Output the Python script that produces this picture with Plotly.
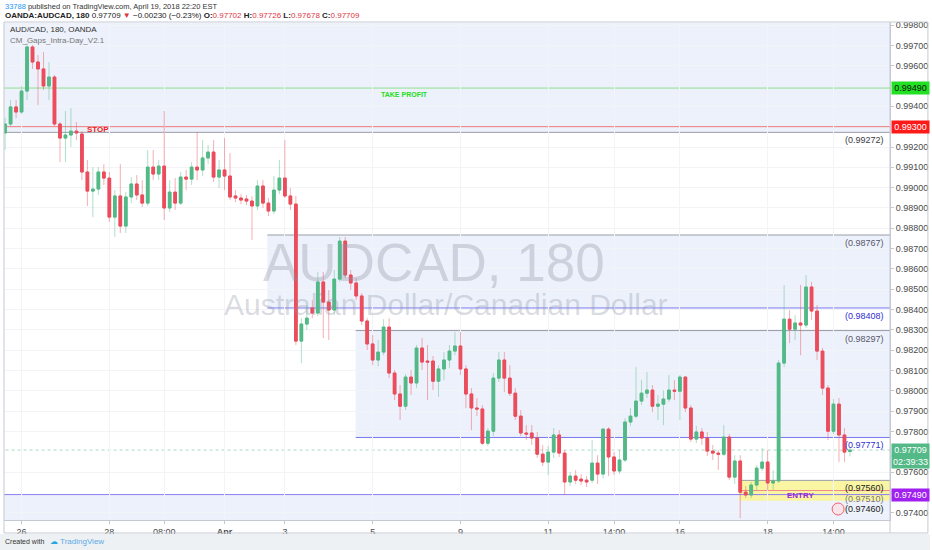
import plotly.graph_objects as go

# ---------------- data (AUDCAD, 3h bars) ----------------
opens = [0.99269,0.99313,0.99397,0.99372,0.99475,0.99692,0.99618,0.99584,0.99500,0.99544,
0.99313,0.99244,0.99259,0.99278,0.99264,0.99077,0.98983,0.98993,0.99077,0.99047,
0.98855,0.98959,0.98811,0.98954,0.99018,0.98964,0.98924,0.99101,0.99067,0.99106,
0.98900,0.98978,0.98924,0.99052,0.99042,0.99101,0.99087,0.99146,0.99175,0.99052,
0.99087,0.99057,0.98959,0.98949,0.98944,0.98934,0.98910,0.99008,0.98924,0.98885,
0.98988,0.99047,0.98959,0.98919,0.98245,0.98329,0.98408,0.98383,0.98536,0.98437,
0.98398,0.98550,0.98737,0.98570,0.98531,0.98467,0.98344,0.98231,0.98152,0.98191,
0.98314,0.98088,0.97985,0.97925,0.98068,0.98039,0.98211,0.98147,0.98147,0.98048,
0.98108,0.98152,0.98196,0.98221,0.98108,0.97985,0.97916,0.97911,0.97743,0.97802,
0.98063,0.98152,0.98063,0.97989,0.97876,0.97793,0.97793,0.97768,0.97689,0.97650,
0.97699,0.97783,0.97694,0.97552,0.97581,0.97566,0.97561,0.97561,0.97645,0.97591,
0.97812,0.97675,0.97606,0.97660,0.97847,0.97876,0.97950,0.97989,0.98004,0.97925,
0.97935,0.97960,0.98004,0.97999,0.98068,0.97916,0.97763,0.97798,0.97768,0.97704,
0.97694,0.97689,0.97773,0.97576,0.97655,0.97502,0.97488,0.97537,0.97620,0.97650,
0.97547,0.97557,0.98137,0.98353,0.98304,0.98334,0.98324,0.98511,0.98393,0.98196,
0.98014,0.97802,0.97935,0.97783,0.97702]
closes = [0.99313,0.99397,0.99372,0.99475,0.99692,0.99618,0.99584,0.99500,0.99544,0.99313,
0.99244,0.99259,0.99278,0.99269,0.99077,0.98983,0.98993,0.99077,0.99047,0.98855,
0.98959,0.98811,0.98954,0.99018,0.98964,0.98924,0.99101,0.99067,0.99106,0.98900,
0.98978,0.98924,0.99052,0.99042,0.99101,0.99087,0.99146,0.99175,0.99052,0.99087,
0.99057,0.98954,0.98949,0.98939,0.98934,0.98910,0.99008,0.98924,0.98885,0.98988,
0.99047,0.98959,0.98919,0.98245,0.98329,0.98358,0.98383,0.98536,0.98437,0.98398,
0.98550,0.98737,0.98570,0.98531,0.98467,0.98344,0.98231,0.98152,0.98191,0.98314,
0.98088,0.97985,0.97925,0.98068,0.98039,0.98211,0.98142,0.98142,0.98048,0.98108,
0.98152,0.98196,0.98221,0.98108,0.97985,0.97916,0.97911,0.97743,0.97802,0.98063,
0.98152,0.98063,0.97989,0.97876,0.97793,0.97788,0.97768,0.97689,0.97650,0.97699,
0.97783,0.97694,0.97552,0.97581,0.97561,0.97557,0.97552,0.97645,0.97591,0.97812,
0.97675,0.97606,0.97660,0.97847,0.97876,0.97950,0.97989,0.98004,0.97925,0.97935,
0.97960,0.98004,0.97999,0.98068,0.97916,0.97763,0.97798,0.97768,0.97704,0.97694,
0.97689,0.97773,0.97576,0.97655,0.97502,0.97488,0.97537,0.97620,0.97650,0.97547,
0.97557,0.98137,0.98353,0.98304,0.98334,0.98324,0.98511,0.98393,0.98196,0.98014,
0.97802,0.97935,0.97783,0.97699,0.97709]
highs = [0.99342,0.99431,0.99431,0.99500,0.99711,0.99702,0.99652,0.99667,0.99618,0.99554,
0.99323,0.99377,0.99392,0.99323,0.99278,0.99136,0.99101,0.99101,0.99116,0.99077,
0.98988,0.99116,0.98978,0.99052,0.99062,0.99037,0.99185,0.99185,0.99136,0.99377,
0.99037,0.99047,0.99077,0.99087,0.99126,0.99274,0.99234,0.99210,0.99234,0.99136,
0.99244,0.99170,0.98988,0.98968,0.98964,0.98959,0.99037,0.99037,0.98949,0.99057,
0.99136,0.99234,0.98998,0.98959,0.98358,0.98422,0.98447,0.98585,0.98585,0.98496,
0.98595,0.98757,0.98757,0.98595,0.98555,0.98481,0.98358,0.98275,0.98250,0.98353,
0.98358,0.98103,0.98029,0.98083,0.98103,0.98226,0.98260,0.98226,0.98172,0.98127,
0.98191,0.98226,0.98290,0.98290,0.98127,0.98014,0.97965,0.97930,0.97817,0.98088,
0.98191,0.98191,0.98127,0.98014,0.97906,0.97832,0.97832,0.97798,0.97734,0.97729,
0.97817,0.97807,0.97709,0.97601,0.97611,0.97591,0.97581,0.97758,0.97684,0.97817,
0.97822,0.97699,0.97709,0.97866,0.97916,0.98117,0.98053,0.98093,0.98029,0.97980,
0.98004,0.98078,0.98053,0.98078,0.98073,0.97930,0.97827,0.97817,0.97798,0.97734,
0.97709,0.97832,0.97788,0.97684,0.97684,0.97532,0.97552,0.97635,0.97719,0.97709,
0.97611,0.98152,0.98521,0.98398,0.98373,0.98521,0.98570,0.98536,0.98422,0.98211,
0.98029,0.97960,0.97965,0.97817,0.97726]
lows = [0.99185,0.99303,0.99342,0.99362,0.99431,0.99584,0.99406,0.99480,0.99431,0.99303,
0.99126,0.99126,0.99200,0.99234,0.99037,0.98910,0.98855,0.98964,0.99013,0.98831,
0.98757,0.98777,0.98777,0.98924,0.98939,0.98905,0.98910,0.99037,0.99037,0.98841,
0.98880,0.98890,0.98914,0.98988,0.99013,0.99037,0.99057,0.99116,0.99028,0.98998,
0.98988,0.98939,0.98929,0.98919,0.98914,0.98742,0.98890,0.98900,0.98860,0.98870,
0.98968,0.98949,0.98890,0.98226,0.98137,0.98299,0.98358,0.98368,0.98260,0.98250,
0.98373,0.98536,0.98555,0.98496,0.98447,0.98324,0.98201,0.98127,0.98122,0.98176,
0.98063,0.97955,0.97857,0.97906,0.97980,0.98014,0.98103,0.97955,0.98004,0.97970,
0.98053,0.98112,0.98176,0.98078,0.97916,0.97807,0.97876,0.97734,0.97729,0.97778,
0.98044,0.97994,0.97975,0.97857,0.97778,0.97758,0.97734,0.97670,0.97630,0.97586,
0.97670,0.97675,0.97488,0.97532,0.97542,0.97537,0.97527,0.97547,0.97542,0.97571,
0.97581,0.97586,0.97591,0.97650,0.97827,0.97866,0.97930,0.97965,0.97896,0.97857,
0.97832,0.97945,0.97955,0.97857,0.97896,0.97748,0.97743,0.97734,0.97680,0.97660,
0.97611,0.97680,0.97561,0.97542,0.97374,0.97473,0.97473,0.97512,0.97606,0.97512,
0.97512,0.97547,0.98117,0.98235,0.98250,0.98176,0.98309,0.98349,0.98152,0.97980,
0.97758,0.97788,0.97650,0.97650,0.97678]
bars = list(range(len(opens)))

tick_bars = [3, 19, 29, 40, 51, 67, 83, 99, 111, 123, 139, 151]
tick_labels = ["26", "28", "08:00", "<b>Apr</b>", "3", "5", "9", "11", "14:00", "16", "18", "14:00"]
price_ticks = [round(0.974 + 0.001 * k, 3) for k in range(25)]

take_profit = 0.99490
stop_level = 0.99300
support_level = 0.97490
last_price = 0.97709
countdown = "02:39:33"
# gap zones: (upper price, lower price, first bar of zone)
gap_upper = [0.99800, 0.98767, 0.98297]
gap_lower = [0.99272, 0.98408, 0.97771]
gap_start = [-1, 47.8, 63.9]
entry_levels = [0.97560, 0.97510, 0.97460]
entry_start = 133.8

# ---------------- style ----------------
GREEN = "#53b987"
RED = "#eb4d5c"
ZONE = "#edf1fb"
GRAYLINE = "#9a9da8"
BLUELINE = "#7a7af2"
FONT = "Liberation Sans, Arial, sans-serif"

L, R, T, B = 4, 40, 23, 30
FW, FH = 932, 550
PW, PH = FW - L - R, FH - T - B
def xp(px):
    return (px - L) / PW
def yp(py):
    return (FH - B - py) / PH

XMAX = 161.3
YMIN, YMAX = 0.97365, 0.99810

fig = go.Figure()
body_hi = [max(o, c) for o, c in zip(opens, closes)]
body_lo = [min(o, c) for o, c in zip(opens, closes)]
fig.add_trace(go.Candlestick(
    x=bars, open=opens, high=highs, low=lows, close=closes,
    increasing=dict(line=dict(color="rgba(83,185,135,0.45)", width=1), fillcolor=GREEN),
    decreasing=dict(line=dict(color="rgba(235,77,92,0.45)", width=1), fillcolor=RED),
    showlegend=False, hoverinfo="skip"))
fig.add_trace(go.Candlestick(
    x=bars, open=opens, high=body_hi, low=body_lo, close=closes,
    increasing=dict(line=dict(color=GREEN, width=1), fillcolor=GREEN),
    decreasing=dict(line=dict(color=RED, width=1), fillcolor=RED),
    showlegend=False, hoverinfo="skip"))

shapes = []
for up, lo, st in zip(gap_upper, gap_lower, gap_start):
    shapes.append(dict(type="rect", xref="x", yref="y", x0=st, x1=XMAX + 5, y0=lo, y1=up + 0.001,
                       fillcolor=ZONE, line=dict(width=0), layer="below") if st < 0 else
                  dict(type="rect", xref="x", yref="y", x0=st, x1=XMAX + 5, y0=lo, y1=up,
                       fillcolor=ZONE, line=dict(width=0), layer="below"))
shapes.append(dict(type="rect", xref="x", yref="y", x0=-1, x1=XMAX + 5, y0=YMIN - 0.001,
                   y1=support_level, fillcolor=ZONE, line=dict(width=0), layer="below"))
shapes.append(dict(type="rect", xref="x", yref="y", x0=entry_start, x1=XMAX + 5,
                   y0=entry_levels[2], y1=entry_levels[0], fillcolor="#f9f5a2",
                   line=dict(width=0), layer="below"))

def hline(y, x0, color, width=1, dash="solid"):
    shapes.append(dict(type="line", xref="x", yref="y", x0=x0, x1=XMAX + 5, y0=y, y1=y,
                       line=dict(color=color, width=width, dash=dash), layer="below"))

hline(gap_lower[0], -1, GRAYLINE)
hline(gap_upper[1], gap_start[1], GRAYLINE)
hline(gap_lower[1], gap_start[1], BLUELINE)
hline(gap_upper[2], gap_start[2], GRAYLINE)
hline(gap_lower[2], gap_start[2], BLUELINE)
hline(entry_levels[0], entry_start, GRAYLINE)
hline(entry_levels[1], entry_start, "#f08a8a")
hline(support_level, -1, "#8f7cf0")
hline(take_profit, -1, "#8fe08f")
hline(stop_level, -1, "#f07a7a")
hline(last_price, -1, "rgba(83,185,135,0.5)", dash="dot")

shapes.append(dict(type="rect", xref="paper", yref="paper", x0=xp(0), x1=xp(FW),
                   y0=yp(FH), y1=yp(534), fillcolor="#eef1f4", line=dict(width=0)))
shapes.append(dict(type="rect", xref="paper", yref="paper", x0=xp(4), x1=xp(930),
                   y0=yp(533), y1=yp(22), line=dict(color="#c5c9d2", width=1)))
shapes.append(dict(type="line", xref="paper", yref="paper", x0=1, x1=1,
                   y0=yp(533), y1=yp(22), line=dict(color="#c5c9d2", width=1)))
shapes.append(dict(type="circle", xref="paper", yref="paper", x0=xp(834), x1=xp(846),
                   y0=yp(515), y1=yp(503), line=dict(color="#f06070", width=1),
                   fillcolor="rgba(255,220,225,0.6)"))

ann = []
ann.append(dict(xref="paper", yref="paper", x=xp(435), y=yp(262), text="AUDCAD, 180",
                showarrow=False, font=dict(family=FONT, size=53, color="rgba(140,146,165,0.33)")))
ann.append(dict(xref="paper", yref="paper", x=xp(447), y=yp(304),
                text="Australian Dollar/Canadian Dollar", showarrow=False,
                font=dict(family=FONT, size=30, color="rgba(140,146,165,0.33)")))

level_labels = [(gap_lower[0], "#3b3b45"), (gap_upper[1], "#55586a"), (gap_lower[1], "#3030d0"),
                (gap_upper[2], "#55586a"), (gap_lower[2], "#3030d0"),
                (entry_levels[0], "#222222"), (entry_levels[1], "#777777"), (entry_levels[2], "#222222")]
for v, col in level_labels:
    ann.append(dict(xref="paper", yref="y", x=xp(888), y=v, xanchor="right", yanchor="top",
                    text="(%.5f)" % v, showarrow=False, yshift=-1,
                    font=dict(family=FONT, size=9, color=col)))

ann.append(dict(xref="paper", yref="y", x=xp(405), y=take_profit, yanchor="top", yshift=-1,
                text="<b>TAKE PROFIT</b>", showarrow=False,
                font=dict(family=FONT, size=7, color="#22dd22")))
ann.append(dict(xref="paper", yref="y", x=xp(85), y=stop_level, yanchor="middle", yshift=-3,
                text="<b>STOP</b>", showarrow=False,
                font=dict(family=FONT, size=8, color="#ee2222")))
ann.append(dict(xref="paper", yref="y", x=xp(818), y=entry_levels[1], yanchor="middle", yshift=-5,
                text="<b>ENTRY</b>", showarrow=False,
                font=dict(family=FONT, size=8, color="#9c22d8")))

highlighted = [take_profit, stop_level, last_price, support_level]
def axis_label(v, text, bg, fc, yshift=0):
    ann.append(dict(xref="paper", yref="y", x=xp(893), y=v, xanchor="left", yanchor="middle",
                    text=text, showarrow=False, bgcolor=bg, width=35, height=10, borderpad=1,
                    yshift=yshift, font=dict(family=FONT, size=9, color=fc)))

axis_label(take_profit, "%.5f" % take_profit, "#22e022", "#111111")
axis_label(stop_level, "%.5f" % stop_level, "#ff1a1a", "#ffffff")
axis_label(last_price, "%.5f" % last_price, GREEN, "#ffffff")
axis_label(last_price, countdown, GREEN, "#ffffff", yshift=-12)
axis_label(support_level, "%.5f" % support_level, "#a020f0", "#ffffff")

# hide tick labels that sit under highlighted price labels
shown_ticks = [v for v in price_ticks if all(abs(v - hv) > 0.00035 for hv in highlighted)]

o, h, lo_, c = opens[-1], highs[-1], lows[-1], closes[-1]
ann.append(dict(xref="paper", yref="paper", x=xp(3), y=yp(6), xanchor="left", yanchor="middle",
                text='<span style="color:#2196f3">33788</span> published on TradingView.com, April 19, 2018 22:20 EST',
                showarrow=False, font=dict(family=FONT, size=7.5, color="#333333")))
ann.append(dict(xref="paper", yref="paper", x=xp(3), y=yp(15.5), xanchor="left", yanchor="middle",
                text=('<b>OANDA:AUDCAD, 180</b> %.5f <span style="color:#e0343f">▼</span> −0.00230 (−0.23%%) '
                      '<b>O:</b><span style="color:#e0343f">%.5f</span> <b>H:</b><span style="color:#e0343f">%.5f</span> '
                      '<b>L:</b><span style="color:#e0343f">%.5f</span> <b>C:</b><span style="color:#e0343f">%.5f</span>')
                     % (c, o, h, lo_, c),
                showarrow=False, font=dict(family=FONT, size=8, color="#222222")))
ann.append(dict(xref="paper", yref="paper", x=xp(8), y=yp(30), xanchor="left", yanchor="middle",
                text="AUD/CAD, 180, OANDA", showarrow=False,
                font=dict(family=FONT, size=8, color="#333333")))
ann.append(dict(xref="paper", yref="paper", x=xp(8), y=yp(40), xanchor="left", yanchor="middle",
                text="CM_Gaps_Intra-Day_V2.1", showarrow=False,
                font=dict(family=FONT, size=8, color="#777777")))
ann.append(dict(xref="paper", yref="paper", x=xp(3), y=yp(541), xanchor="left", yanchor="middle",
                text="Created with", showarrow=False, font=dict(family=FONT, size=7, color="#333333")))
ann.append(dict(xref="paper", yref="paper", x=xp(48), y=yp(541), xanchor="left", yanchor="middle",
                text='<span style="color:#2aa6e0">☁</span> <span style="color:#5aa9e6">TradingView</span>',
                showarrow=False, font=dict(family=FONT, size=8, color="#2aa6e0")))

fig.update_layout(
    width=FW, height=FH, autosize=False,
    margin=dict(l=L, r=R, t=T, b=B, pad=0),
    paper_bgcolor="#ffffff", plot_bgcolor="#ffffff",
    shapes=shapes, annotations=ann, showlegend=False,
    font=dict(family=FONT, size=9, color="#4a4a4a"),
    xaxis=dict(range=[-0.2, XMAX], tickmode="array", tickvals=tick_bars, ticktext=tick_labels,
               rangeslider=dict(visible=False), showgrid=True, gridcolor="#f3f4f8",
               zeroline=False, showline=True, linecolor="#c5c9d2", mirror=False,
               ticks="outside", ticklen=3, tickcolor="#c5c9d2",
               tickfont=dict(family=FONT, size=9, color="#4a4a4a")),
    yaxis=dict(range=[YMIN, YMAX], side="right", tickmode="array", tickvals=shown_ticks,
               ticktext=["%.5f" % v for v in shown_ticks], showgrid=True, gridcolor="#f3f4f8",
               zeroline=False, showline=True, linecolor="#c5c9d2",
               ticks="outside", ticklen=3, tickcolor="#c5c9d2",
               tickfont=dict(family=FONT, size=9, color="#4a4a4a")),
)

fig.write_html("out.html", config={"displayModeBar": False},
               post_script="document.body.style.margin='0';")
